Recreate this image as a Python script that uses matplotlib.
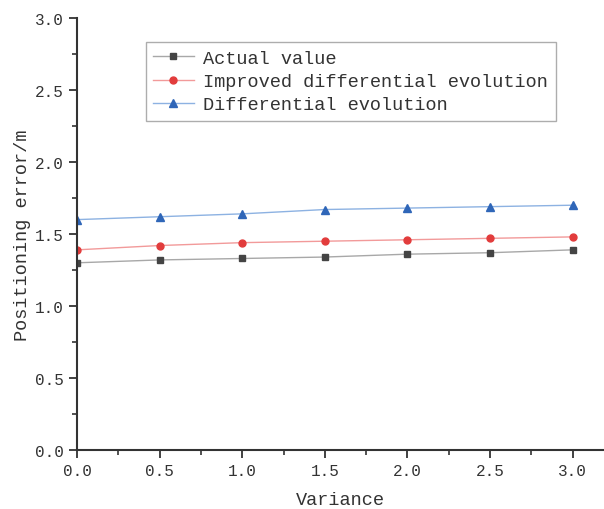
import matplotlib
matplotlib.use("Agg")
import matplotlib.pyplot as plt
from matplotlib.ticker import MultipleLocator, FormatStrFormatter

variance = [0.0, 0.5, 1.0, 1.5, 2.0, 2.5, 3.0]
actual = [1.30, 1.32, 1.33, 1.34, 1.36, 1.37, 1.39]
improved_de = [1.39, 1.42, 1.44, 1.45, 1.46, 1.47, 1.48]
de = [1.60, 1.62, 1.64, 1.67, 1.68, 1.69, 1.70]

labels = ["Actual value", "Improved differential evolution", "Differential evolution"]

plt.rcParams["font.family"] = ["Liberation Mono", "DejaVu Sans Mono"]

fig = plt.figure(figsize=(6.04, 5.10), dpi=100)
ax = fig.add_axes([0.1275, 0.1157, 0.8725, 0.847])

ax.plot(variance, actual, color="#a8a8a8", lw=1.0, marker="s", ms=4.5,
        mfc="#444444", mec="#444444", label=labels[0])
ax.plot(variance, improved_de, color="#f29a9a", lw=1.0, marker="o", ms=5,
        mfc="#e23c3c", mec="#e23c3c", label=labels[1])
ax.plot(variance, de, color="#8db2e2", lw=1.0, marker="^", ms=5.5,
        mfc="#2f66b8", mec="#2f66b8", label=labels[2])

ax.set_xlim(0, 3.19)
ax.set_ylim(0, 3.0)
ax.spines["top"].set_visible(False)
ax.spines["right"].set_visible(False)
for s in ["left", "bottom"]:
    ax.spines[s].set_linewidth(1.5)
    ax.spines[s].set_color("#333333")

ax.xaxis.set_major_locator(MultipleLocator(0.5))
ax.xaxis.set_minor_locator(MultipleLocator(0.25))
ax.yaxis.set_major_locator(MultipleLocator(0.5))
ax.yaxis.set_minor_locator(MultipleLocator(0.25))
ax.xaxis.set_major_formatter(FormatStrFormatter("%.1f"))
ax.yaxis.set_major_formatter(FormatStrFormatter("%.1f"))
ax.tick_params(which="major", direction="out", length=6, width=1.3,
               color="#333333", labelsize=11.5, labelcolor="#333333")
ax.tick_params(which="minor", direction="out", length=3.5, width=1.2,
               color="#333333")

ax.set_xlabel("Variance", fontsize=13.4, color="#333333", labelpad=9)
ax.set_ylabel("Positioning error/m", fontsize=13.4, color="#333333", labelpad=3)

leg = ax.legend(loc="upper left", bbox_to_anchor=(0.13, 0.944), fontsize=13.4,
                frameon=True, fancybox=False, borderpad=0.4, labelspacing=0.34,
                handlelength=2.2, handletextpad=0.5, borderaxespad=0)
leg.get_frame().set_edgecolor("#999999")
leg.get_frame().set_linewidth(1.0)
for t in leg.get_texts():
    t.set_color("#333333")

fig.savefig("out.png", dpi=100)
